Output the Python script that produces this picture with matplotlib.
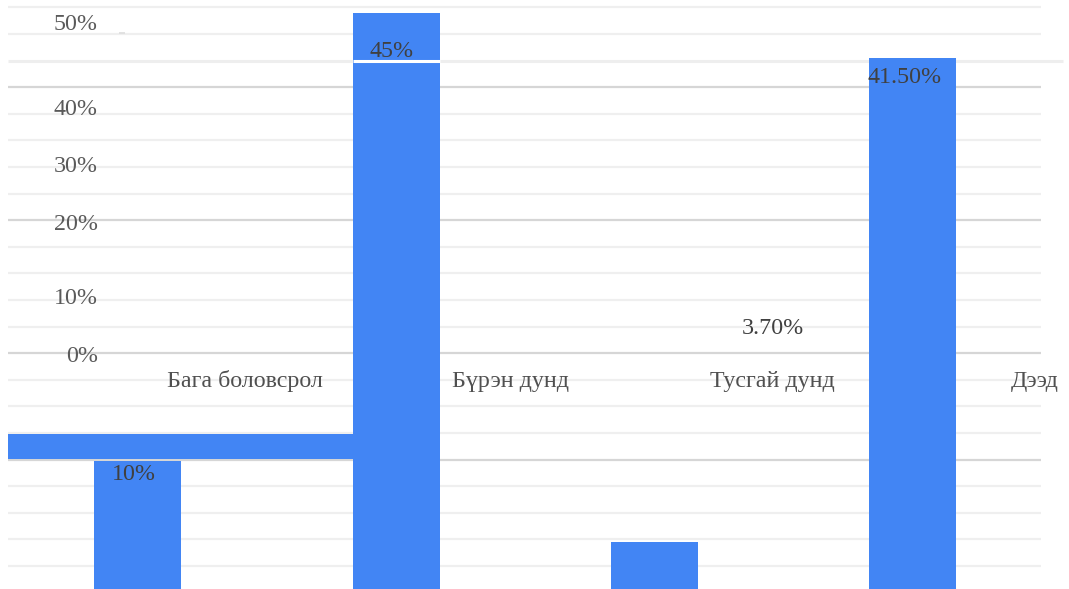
import matplotlib
matplotlib.use("Agg")
import matplotlib.pyplot as plt

# data
categories = ["Бага боловсрол", "Бүрэн дунд", "Тусгай дунд", "Дээд"]
values = [10, 45, 3.7, 41.5]
value_labels = ["10%", "45%", "3.70%", "41.50%"]
y_tick_labels = ["50%", "40%", "30%", "20%", "10%", "0%"]

# layout (pixel positions of the broken render)
W, H = 1069, 589
BLUE = "#4285f4"
px_per_pct = 12.8
bar_px = 258.2
first_bar_px = 138
y_label_base = [30, 115, 172.5, 229.5, 303.5, 362]
cat_label_x = [244.5, 511, 772.5, 1034.5]
cat_label_base = 387
value_label_pos = [(133.5, 480), (391.5, 57), (772.5, 334), (905, 83)]
grid_step = 26.6
grid_zero = 566
grid_dark = [4, 8, 13, 18]

plt.rcParams["font.family"] = ["Liberation Serif", "DejaVu Serif"]

fig = plt.figure(figsize=(W / 100, H / 100), dpi=100)

# background gridlines, in pixel units
ax_bg = fig.add_axes([0, 0, 1, 1])
ax_bg.set_xlim(0, W)
ax_bg.set_ylim(H, 0)
ax_bg.axis("off")
for k in range(22):
    y = grid_zero - grid_step * k
    if k == 19:
        ax_bg.hlines(y, 8, 1063, color="#eeeeee", lw=2.2)
    else:
        col = "#d6d6d6" if k in grid_dark else "#efefef"
        ax_bg.hlines(y, 8, 1041, color=col, lw=1.6)
ax_bg.hlines(32.5, 119, 125, color="#dddddd", lw=1.2)

# bars
ax = fig.add_axes([0, 0, 1, 1], zorder=2)
ax.patch.set_alpha(0)
ax.set_xlim(-first_bar_px / bar_px, (W - first_bar_px) / bar_px)
ax.set_ylim(0, H / px_per_pct)
ax.axis("off")
x = list(range(len(categories)))
ax.bar(x, values, width=87 / bar_px, color=BLUE, linewidth=0)

# stray horizontal band and white cut through the second bar
ax_top = fig.add_axes([0, 0, 1, 1], zorder=3)
ax_top.patch.set_alpha(0)
ax_top.set_xlim(0, W)
ax_top.set_ylim(H, 0)
ax_top.axis("off")
ax_top.fill_between([8, 353], 434, 459, color=BLUE, lw=0)
ax_top.hlines(60.8, 353, 440, color="white", lw=2.2)

fs = 17.3
for lab, yb in zip(y_tick_labels, y_label_base):
    ax_top.text(98, yb, lab, ha="right", va="baseline", fontsize=fs, color="#5a5a5a")
for lab, xc in zip(categories, cat_label_x):
    ax_top.text(xc, cat_label_base, lab, ha="center", va="baseline", fontsize=fs, color="#505050")
for lab, (xc, yb) in zip(value_labels, value_label_pos):
    ax_top.text(xc, yb, lab, ha="center", va="baseline", fontsize=fs, color="#404040")

fig.savefig("out.png", dpi=100)
